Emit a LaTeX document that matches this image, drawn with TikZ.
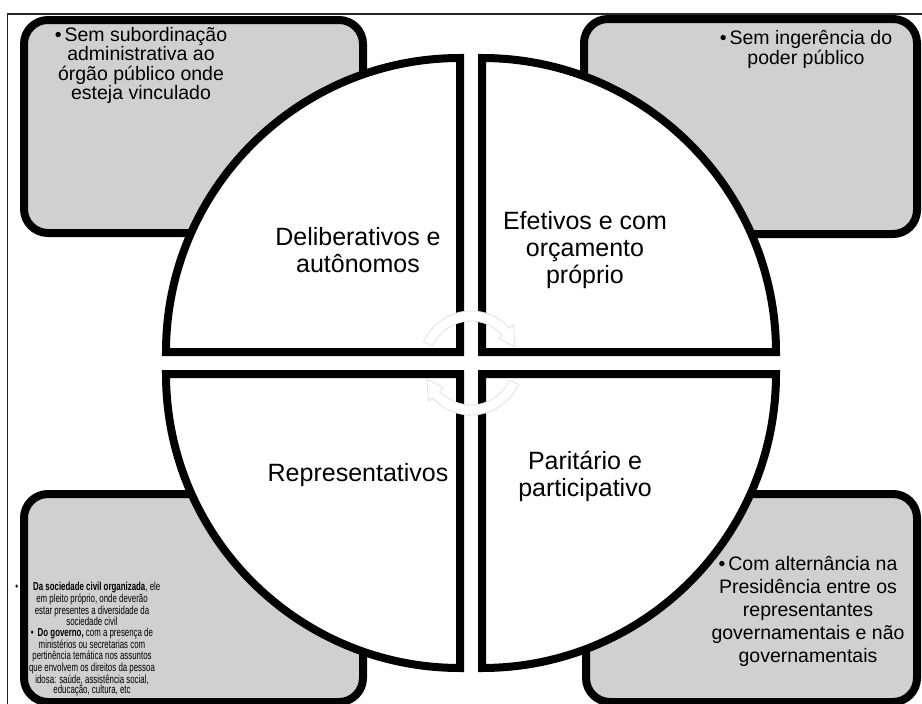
\documentclass[tikz,border=0pt]{standalone}
\usepackage{fontspec}
\setmainfont{Liberation Sans}
\newfontfamily\condfont[FakeStretch=0.68]{Liberation Sans}
\usetikzlibrary{calc}
\definecolor{boxgray}{RGB}{208,208,208}
\definecolor{arrowline}{RGB}{226,226,226}
\tikzset{
  panel/.style={draw=black, line width=8pt, fill=boxgray, rounded corners=24pt},
  quad/.style={draw=black, line width=8pt, fill=white, line join=miter},
  boxtext/.style={align=center, inner sep=0pt, font=\fontsize{19.5}{19.5}\selectfont},
  smalltext/.style={align=center, inner sep=0pt, font=\condfont\fontsize{11.6}{10.7}\selectfont},
  quadlabel/.style={align=center, inner sep=0pt, font=\fontsize{25}{27}\selectfont},
  cyc/.style={draw=arrowline, line width=0.8pt, fill=white},
  frame/.style={draw=black!85, line width=1.3pt}
}
\begin{document}
\begin{tikzpicture}[x=1pt,y=-1pt]
\useasboundingbox (0,0) rectangle (922,704);
\clip (0,0) rectangle (922,704);
\fill[white] (0,0) rectangle (922,704);
\draw[frame] (7.5,14) rectangle (940,720);

% corner panels
\draw[panel] (24,20) rectangle (363,233);
\draw[panel] (584,19) rectangle (917,234);
\draw[panel] (24,494) rectangle (363,702);
\draw[panel] (586,494) rectangle (917,702);

% panel texts
\node[boxtext] (tltext) at (141,65.5) {•\hspace{3pt}Sem subordinação\\administrativa ao\\órgão público onde\\esteja vinculado};
\node[boxtext, font=\fontsize{19.5}{20}\selectfont] (trtext) at (806,49) {•\hspace{3pt}Sem ingerência do\\poder público};
\node[boxtext, font=\fontsize{19.5}{23}\selectfont] (brtext) at (808,611) {•\hspace{3pt}Com alternância na\\Presidência entre os\\representantes\\governamentais e não\\governamentais};
\node[smalltext] (bltext) at (92,639) {•\hspace{15pt}\textbf{Da sociedade civil organizada}, ele\phantom{ita}\\em pleito próprio, onde deverão\\estar presentes a diversidade da\\sociedade civil\\•\hspace{4pt}\textbf{Do governo,} com a presença de\\ministérios ou secretarias com\\pertinência temática nos assuntos\\que envolvem os direitos da pessoa\\idosa: saúde, assistência social,\\educação, cultura, etc};

% quadrants of the circle
\draw[quad] (460,352) -- ++(-294,0) arc[start angle=180, end angle=270, radius=294] -- cycle;
\draw[quad] (482,352) -- ++(0,-294) arc[start angle=270, end angle=360, radius=294] -- cycle;
\draw[quad] (482,374) -- ++(294,0) arc[start angle=0, end angle=90, radius=294] -- cycle;
\draw[quad] (460,374) -- ++(0,294) arc[start angle=90, end angle=180, radius=294] -- cycle;

% quadrant labels
\node[quadlabel] (q1) at (358,250) {Deliberativos e\\autônomos};
\node[quadlabel] (q2) at (585,250) {Efetivos e com\\orçamento\\próprio};
\node[quadlabel] (q3) at (358,475) {Representativos};
\node[quadlabel] (q4) at (585,476) {Paritário e\\participativo};

% faint circular arrows in the centre
\coordinate (c) at (471,363);
\draw[cyc] ($(c)+(204:52)$) arc[start angle=204, end angle=318, radius=52]
  -- ($(c)+(318:57)$) -- ($(c)+(340:47)$) -- ($(c)+(318:37)$) -- ($(c)+(318:42)$)
  arc[start angle=318, end angle=204, radius=42] -- cycle;
\draw[cyc] ($(c)+(24:52)$) arc[start angle=24, end angle=138, radius=52]
  -- ($(c)+(138:57)$) -- ($(c)+(160:47)$) -- ($(c)+(138:37)$) -- ($(c)+(138:42)$)
  arc[start angle=138, end angle=24, radius=42] -- cycle;
\end{tikzpicture}
\end{document}
